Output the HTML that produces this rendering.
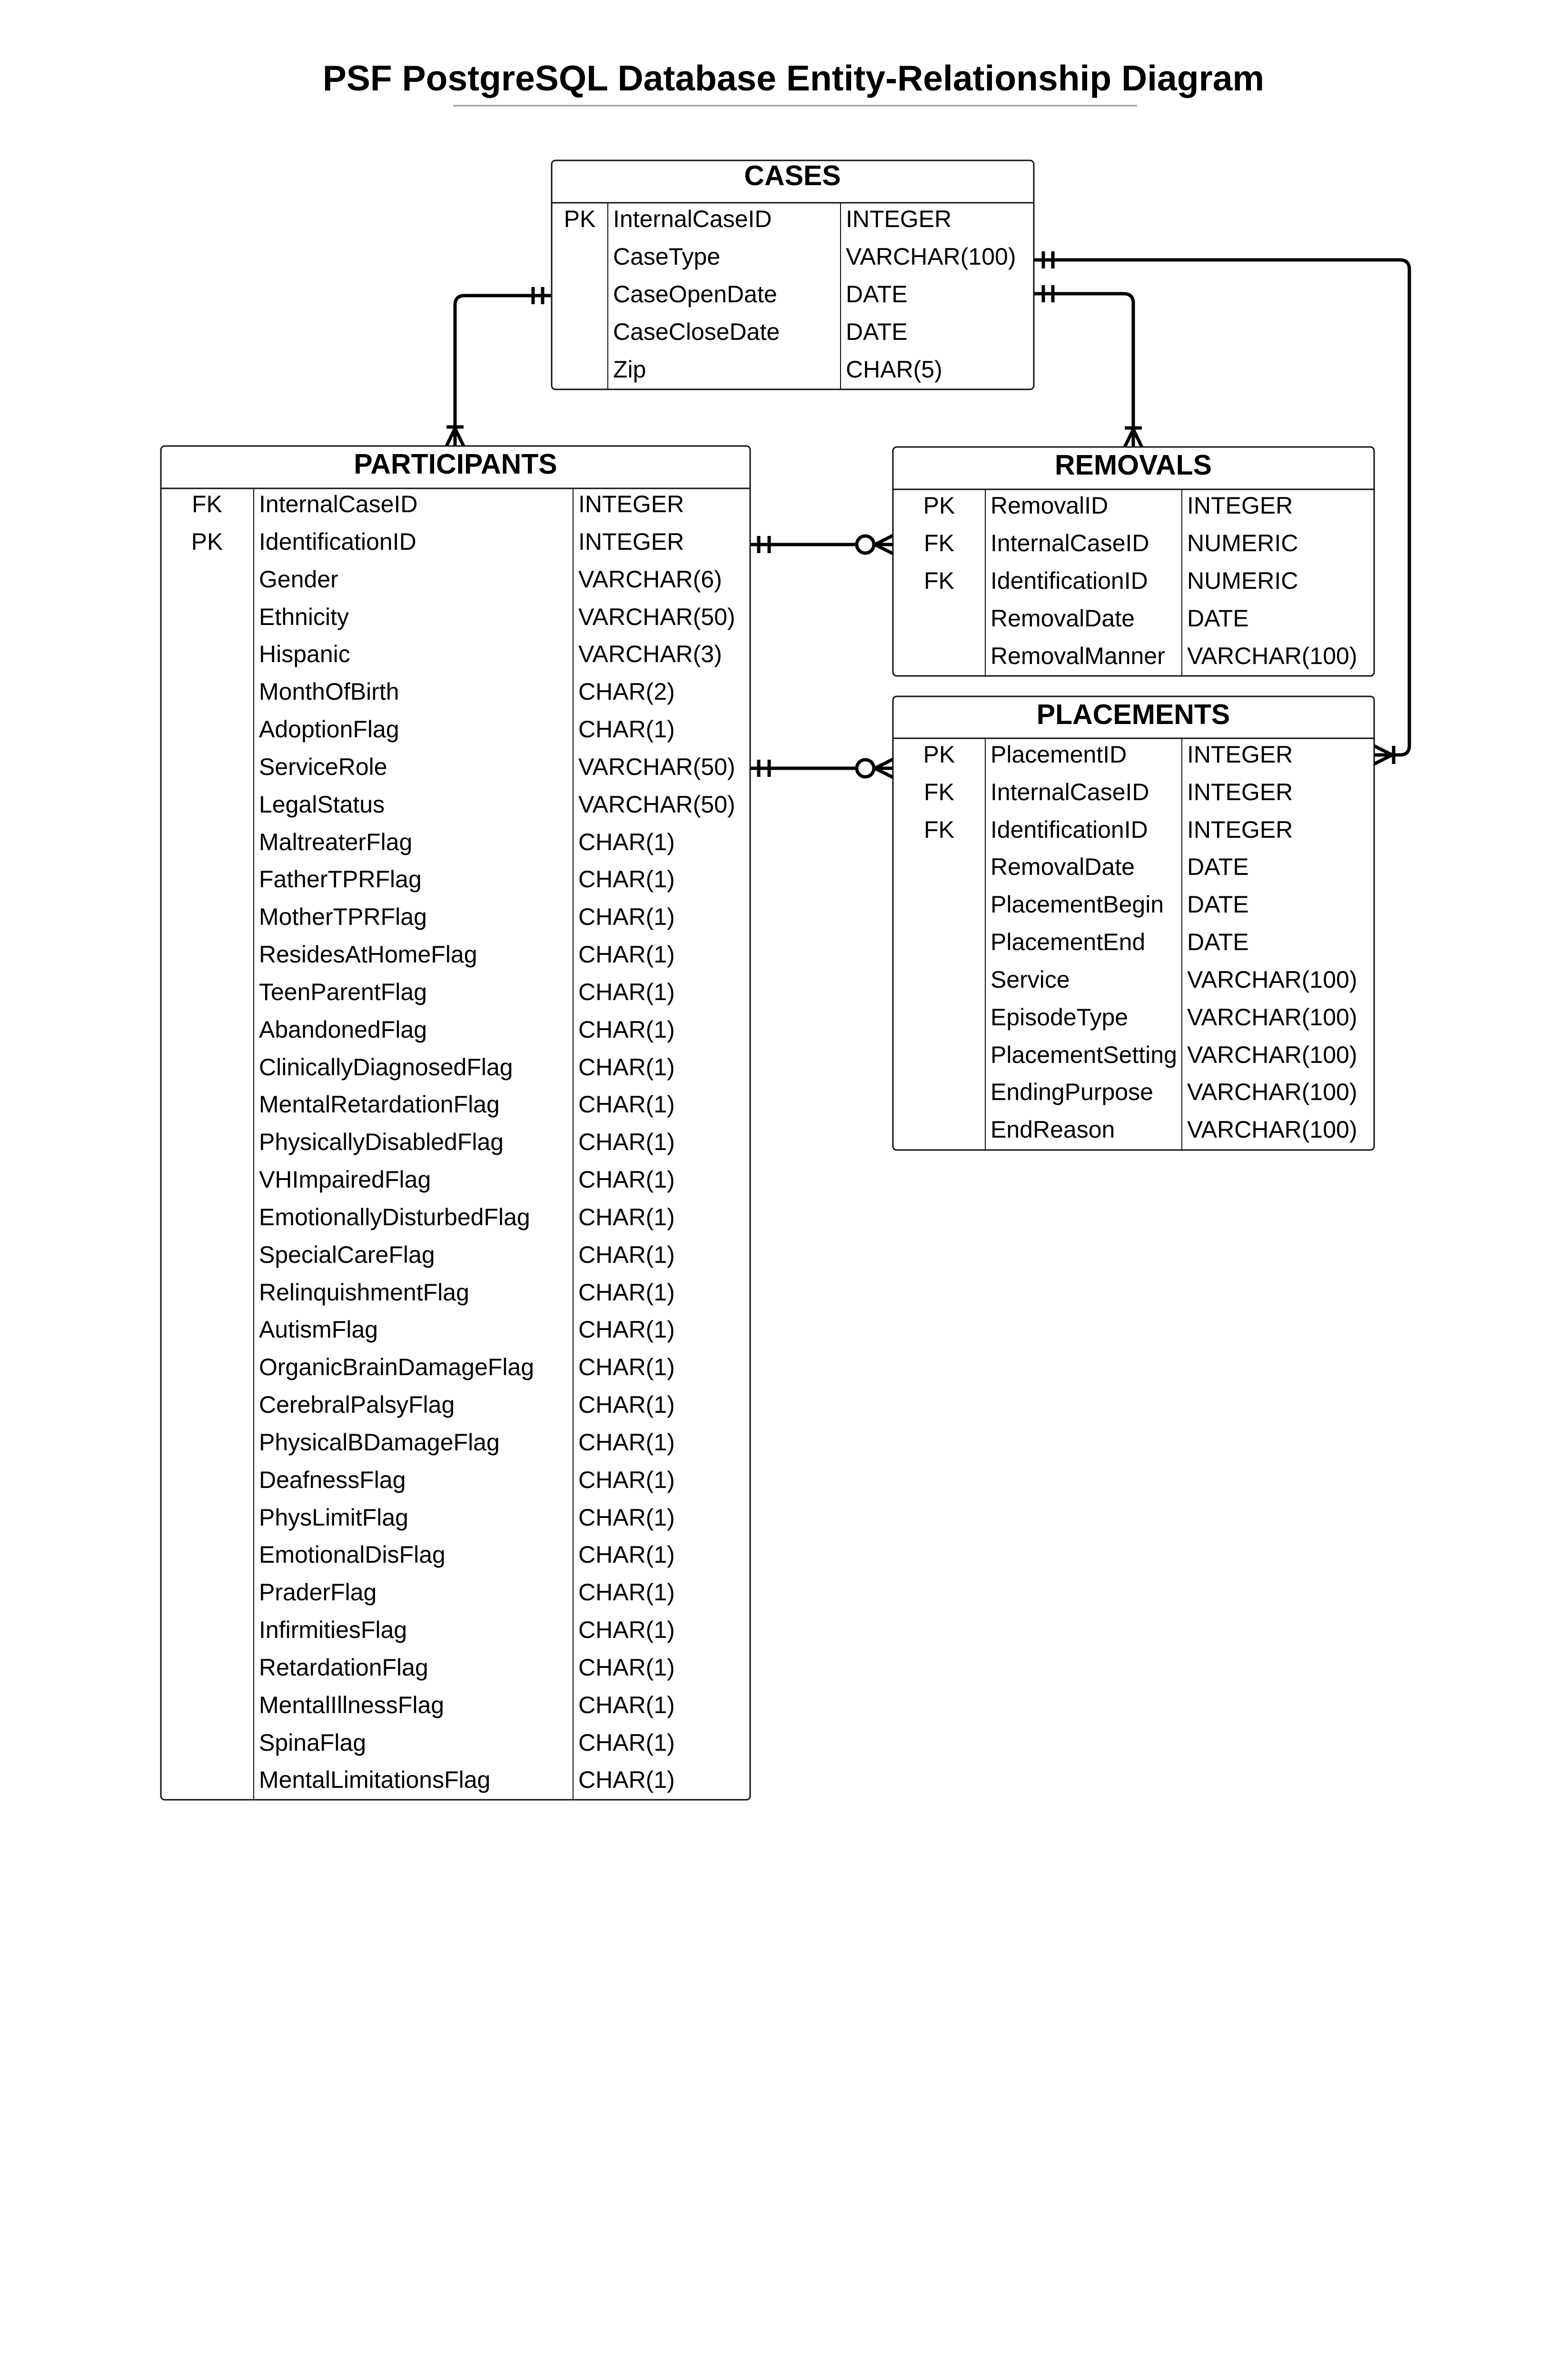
<!DOCTYPE html>
<html><head><meta charset="utf-8"><style>
html,body{margin:0;padding:0;background:#fff;overflow:hidden;width:3267px;height:5625px;}
svg{display:block;}
text{font-family:"Liberation Sans",sans-serif;fill:#000;}
.t{font-size:50px;}
.h{font-size:59px;font-weight:bold;}
.box{fill:#fff;stroke:#111;stroke-width:3;}
.ln{stroke:#111;stroke-width:3;}
.cl{stroke:#111;stroke-width:2;}
.c{fill:none;stroke:#000;stroke-width:7;}
</style></head><body>
<svg width="3267" height="5625" viewBox="0 0 3267 5625" xmlns="http://www.w3.org/2000/svg">
<rect width="3267" height="5625" fill="#fff"/>
<text x="1667" y="190" text-anchor="middle" style="font-size:75px;font-weight:bold">PSF PostgreSQL Database Entity-Relationship Diagram</text>
<line x1="952" y1="222" x2="2389" y2="222" stroke="#b3b3b3" stroke-width="4"/>

<!-- connectors -->
<path class="c" d="M1159,621 H976 Q956,621 956,641 V937"/>
<path class="c" d="M1120,603 V639 M1140,603 V639"/>
<path class="c" d="M938,897 H974 M956,900 L938,937 M956,900 L974,937"/>

<path class="c" d="M2172,617 H2361 Q2381,617 2381,637 V939"/>
<path class="c" d="M2192,599 V635 M2212,599 V635"/>
<path class="c" d="M2363,899 H2399 M2381,902 L2363,939 M2381,902 L2399,939"/>

<path class="c" d="M2172,546 H2941 Q2961,546 2961,566 V1566 Q2961,1586 2941,1586 H2887"/>
<path class="c" d="M2192,528 V564 M2212,528 V564"/>
<path class="c" d="M2928,1567 V1605 M2925,1586 L2887,1567 M2925,1586 L2887,1605"/>

<path class="c" d="M1576,1144 H1800"/>
<path class="c" d="M1594,1126 V1162 M1616,1126 V1162"/>
<circle cx="1818" cy="1144" r="18" class="c"/>
<path class="c" d="M1836,1144 H1876 M1838,1144 L1876,1125 M1838,1144 L1876,1163"/>

<path class="c" d="M1576,1614 H1800"/>
<path class="c" d="M1594,1596 V1632 M1616,1596 V1632"/>
<circle cx="1818" cy="1614" r="18" class="c"/>
<path class="c" d="M1836,1614 H1876 M1838,1614 L1876,1595 M1838,1614 L1876,1633"/>

<!-- CASES -->
<rect class="box" x="1159" y="337" width="1013" height="481" rx="8"/>
<line class="ln" x1="1159" y1="426" x2="2172" y2="426"/>
<line class="cl" x1="1277" y1="426" x2="1277" y2="818"/>
<line class="cl" x1="1766" y1="426" x2="1766" y2="818"/>
<text class="h" x="1665" y="389" text-anchor="middle">CASES</text>
<g transform="translate(0,2)">
<text x="1218" y="475" text-anchor="middle" class="t">PK</text>
<text x="1288" y="475" class="t">InternalCaseID</text><text x="1777" y="475" class="t">INTEGER</text>
<text x="1288" y="554" class="t">CaseType</text><text x="1777" y="554" class="t">VARCHAR(100)</text>
<text x="1288" y="633" class="t">CaseOpenDate</text><text x="1777" y="633" class="t">DATE</text>
<text x="1288" y="712" class="t">CaseCloseDate</text><text x="1777" y="712" class="t">DATE</text>
<text x="1288" y="791" class="t">Zip</text><text x="1777" y="791" class="t">CHAR(5)</text>
</g>

<!-- PARTICIPANTS -->
<rect class="box" x="338" y="937" width="1238" height="2844" rx="8"/>
<line class="ln" x1="338" y1="1026" x2="1576" y2="1026"/>
<line class="cl" x1="533" y1="1026" x2="533" y2="3781"/>
<line class="cl" x1="1204" y1="1026" x2="1204" y2="3781"/>
<text class="h" x="957" y="995" text-anchor="middle">PARTICIPANTS</text>
<g transform="translate(0,2)">
<text x="435" y="1074" text-anchor="middle" class="t">FK</text>
<text x="435" y="1153" text-anchor="middle" class="t">PK</text>
<text x="544" y="1074" class="t">InternalCaseID</text><text x="1215" y="1074" class="t">INTEGER</text>
<text x="544" y="1153" class="t">IdentificationID</text><text x="1215" y="1153" class="t">INTEGER</text>
<text x="544" y="1232" class="t">Gender</text><text x="1215" y="1232" class="t">VARCHAR(6)</text>
<text x="544" y="1311" class="t">Ethnicity</text><text x="1215" y="1311" class="t">VARCHAR(50)</text>
<text x="544" y="1389" class="t">Hispanic</text><text x="1215" y="1389" class="t">VARCHAR(3)</text>
<text x="544" y="1468" class="t">MonthOfBirth</text><text x="1215" y="1468" class="t">CHAR(2)</text>
<text x="544" y="1547" class="t">AdoptionFlag</text><text x="1215" y="1547" class="t">CHAR(1)</text>
<text x="544" y="1626" class="t">ServiceRole</text><text x="1215" y="1626" class="t">VARCHAR(50)</text>
<text x="544" y="1705" class="t">LegalStatus</text><text x="1215" y="1705" class="t">VARCHAR(50)</text>
<text x="544" y="1784" class="t">MaltreaterFlag</text><text x="1215" y="1784" class="t">CHAR(1)</text>
<text x="544" y="1862" class="t">FatherTPRFlag</text><text x="1215" y="1862" class="t">CHAR(1)</text>
<text x="544" y="1941" class="t">MotherTPRFlag</text><text x="1215" y="1941" class="t">CHAR(1)</text>
<text x="544" y="2020" class="t">ResidesAtHomeFlag</text><text x="1215" y="2020" class="t">CHAR(1)</text>
<text x="544" y="2099" class="t">TeenParentFlag</text><text x="1215" y="2099" class="t">CHAR(1)</text>
<text x="544" y="2178" class="t">AbandonedFlag</text><text x="1215" y="2178" class="t">CHAR(1)</text>
<text x="544" y="2257" class="t">ClinicallyDiagnosedFlag</text><text x="1215" y="2257" class="t">CHAR(1)</text>
<text x="544" y="2335" class="t">MentalRetardationFlag</text><text x="1215" y="2335" class="t">CHAR(1)</text>
<text x="544" y="2414" class="t">PhysicallyDisabledFlag</text><text x="1215" y="2414" class="t">CHAR(1)</text>
<text x="544" y="2493" class="t">VHImpairedFlag</text><text x="1215" y="2493" class="t">CHAR(1)</text>
<text x="544" y="2572" class="t">EmotionallyDisturbedFlag</text><text x="1215" y="2572" class="t">CHAR(1)</text>
<text x="544" y="2651" class="t">SpecialCareFlag</text><text x="1215" y="2651" class="t">CHAR(1)</text>
<text x="544" y="2730" class="t">RelinquishmentFlag</text><text x="1215" y="2730" class="t">CHAR(1)</text>
<text x="544" y="2808" class="t">AutismFlag</text><text x="1215" y="2808" class="t">CHAR(1)</text>
<text x="544" y="2887" class="t">OrganicBrainDamageFlag</text><text x="1215" y="2887" class="t">CHAR(1)</text>
<text x="544" y="2966" class="t">CerebralPalsyFlag</text><text x="1215" y="2966" class="t">CHAR(1)</text>
<text x="544" y="3045" class="t">PhysicalBDamageFlag</text><text x="1215" y="3045" class="t">CHAR(1)</text>
<text x="544" y="3124" class="t">DeafnessFlag</text><text x="1215" y="3124" class="t">CHAR(1)</text>
<text x="544" y="3203" class="t">PhysLimitFlag</text><text x="1215" y="3203" class="t">CHAR(1)</text>
<text x="544" y="3281" class="t">EmotionalDisFlag</text><text x="1215" y="3281" class="t">CHAR(1)</text>
<text x="544" y="3360" class="t">PraderFlag</text><text x="1215" y="3360" class="t">CHAR(1)</text>
<text x="544" y="3439" class="t">InfirmitiesFlag</text><text x="1215" y="3439" class="t">CHAR(1)</text>
<text x="544" y="3518" class="t">RetardationFlag</text><text x="1215" y="3518" class="t">CHAR(1)</text>
<text x="544" y="3597" class="t">MentalIllnessFlag</text><text x="1215" y="3597" class="t">CHAR(1)</text>
<text x="544" y="3676" class="t">SpinaFlag</text><text x="1215" y="3676" class="t">CHAR(1)</text>
<text x="544" y="3754" class="t">MentalLimitationsFlag</text><text x="1215" y="3754" class="t">CHAR(1)</text>
</g>

<!-- REMOVALS -->
<rect class="box" x="1876" y="939" width="1011" height="481" rx="8"/>
<line class="ln" x1="1876" y1="1028" x2="2887" y2="1028"/>
<line class="cl" x1="2070" y1="1028" x2="2070" y2="1420"/>
<line class="cl" x1="2483" y1="1028" x2="2483" y2="1420"/>
<text class="h" x="2381" y="997" text-anchor="middle">REMOVALS</text>
<g transform="translate(0,2)">
<text x="1973" y="1077" text-anchor="middle" class="t">PK</text>
<text x="1973" y="1156" text-anchor="middle" class="t">FK</text>
<text x="1973" y="1235" text-anchor="middle" class="t">FK</text>
<text x="2081" y="1077" class="t">RemovalID</text><text x="2494" y="1077" class="t">INTEGER</text>
<text x="2081" y="1156" class="t">InternalCaseID</text><text x="2494" y="1156" class="t">NUMERIC</text>
<text x="2081" y="1235" class="t">IdentificationID</text><text x="2494" y="1235" class="t">NUMERIC</text>
<text x="2081" y="1314" class="t">RemovalDate</text><text x="2494" y="1314" class="t">DATE</text>
<text x="2081" y="1393" class="t">RemovalManner</text><text x="2494" y="1393" class="t">VARCHAR(100)</text>
</g>

<!-- PLACEMENTS -->
<rect class="box" x="1876" y="1463" width="1011" height="953" rx="8"/>
<line class="ln" x1="1876" y1="1551" x2="2887" y2="1551"/>
<line class="cl" x1="2070" y1="1551" x2="2070" y2="2416"/>
<line class="cl" x1="2483" y1="1551" x2="2483" y2="2416"/>
<text class="h" x="2381" y="1521" text-anchor="middle">PLACEMENTS</text>
<g transform="translate(0,2)">
<text x="1973" y="1600" text-anchor="middle" class="t">PK</text>
<text x="1973" y="1679" text-anchor="middle" class="t">FK</text>
<text x="1973" y="1758" text-anchor="middle" class="t">FK</text>
<text x="2081" y="1600" class="t">PlacementID</text><text x="2494" y="1600" class="t">INTEGER</text>
<text x="2081" y="1679" class="t">InternalCaseID</text><text x="2494" y="1679" class="t">INTEGER</text>
<text x="2081" y="1758" class="t">IdentificationID</text><text x="2494" y="1758" class="t">INTEGER</text>
<text x="2081" y="1836" class="t">RemovalDate</text><text x="2494" y="1836" class="t">DATE</text>
<text x="2081" y="1915" class="t">PlacementBegin</text><text x="2494" y="1915" class="t">DATE</text>
<text x="2081" y="1994" class="t">PlacementEnd</text><text x="2494" y="1994" class="t">DATE</text>
<text x="2081" y="2073" class="t">Service</text><text x="2494" y="2073" class="t">VARCHAR(100)</text>
<text x="2081" y="2152" class="t">EpisodeType</text><text x="2494" y="2152" class="t">VARCHAR(100)</text>
<text x="2081" y="2231" class="t">PlacementSetting</text><text x="2494" y="2231" class="t">VARCHAR(100)</text>
<text x="2081" y="2309" class="t">EndingPurpose</text><text x="2494" y="2309" class="t">VARCHAR(100)</text>
<text x="2081" y="2388" class="t">EndReason</text><text x="2494" y="2388" class="t">VARCHAR(100)</text>
</g>
</svg>
</body></html>
